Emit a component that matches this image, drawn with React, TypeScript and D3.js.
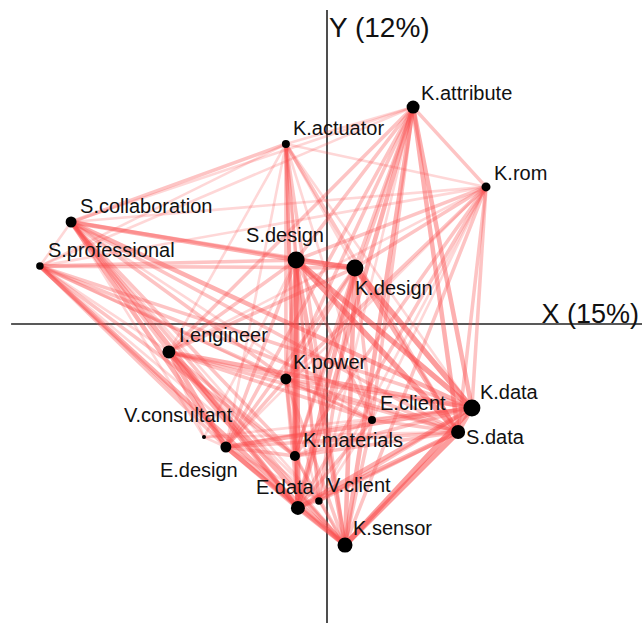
import React from "react";
import * as d3 from "d3";

// ---- data ----
const nodeNames = [
  "K.attribute", "K.actuator", "K.rom", "S.collaboration", "S.professional",
  "S.design", "K.design", "I.engineer", "K.power", "K.data", "E.client",
  "S.data", "V.consultant", "E.design", "K.materials", "V.client", "E.data", "K.sensor",
];
const nodeX = [0.287, -0.137, 0.53, -0.853, -0.957, -0.103, 0.093, -0.527, -0.137, 0.483, 0.15, 0.437, -0.41, -0.337, -0.107, -0.027, -0.097, 0.06];
const nodeY = [0.723, 0.6, 0.457, 0.34, 0.193, 0.213, 0.187, -0.093, -0.183, -0.28, -0.32, -0.36, -0.377, -0.41, -0.44, -0.59, -0.613, -0.737];
const nodeCount = [42, 16, 20, 30, 14, 72, 72, 42, 30, 72, 16, 49, 4, 30, 25, 14, 49, 56];

// edges: [source, target, weight]
const edges: [number, number, number][] = [
  [0,1,1],[0,2,2],[0,3,1],[0,4,1],[0,5,2],[0,6,2],[0,7,2],[0,8,2],[0,9,3],[0,10,2],[0,11,3],[0,13,2],[0,14,2],[0,15,1],[0,16,3],[0,17,3],
  [1,2,1],[1,3,2],[1,4,1],[1,5,2],[1,6,1],[1,7,1],[1,8,2],[1,9,1],[1,10,1],[1,11,2],[1,13,1],[1,14,2],[1,15,1],[1,16,2],[1,17,2],
  [2,3,1],[2,4,1],[2,5,2],[2,6,2],[2,7,1],[2,8,2],[2,9,2],[2,10,1],[2,11,2],[2,13,1],[2,14,2],[2,15,1],[2,16,2],[2,17,2],
  [3,4,1],[3,5,3],[3,6,2],[3,7,2],[3,8,2],[3,9,3],[3,10,1],[3,11,2],[3,12,1],[3,13,3],[3,14,2],[3,15,1],[3,16,3],[3,17,2],
  [4,5,2],[4,6,2],[4,7,1],[4,8,2],[4,9,2],[4,10,1],[4,11,2],[4,13,2],[4,14,2],[4,15,1],[4,16,2],[4,17,3],
  [5,6,4],[5,7,2],[5,8,2],[5,9,4],[5,10,2],[5,11,4],[5,12,1],[5,13,2],[5,14,3],[5,15,2],[5,16,4],[5,17,3],
  [6,7,2],[6,8,2],[6,9,4],[6,10,2],[6,11,3],[6,13,2],[6,14,2],[6,15,2],[6,16,3],[6,17,3],
  [7,8,2],[7,9,3],[7,10,2],[7,11,2],[7,12,1],[7,13,3],[7,14,2],[7,15,1],[7,16,3],[7,17,3],
  [8,9,2],[8,10,2],[8,11,2],[8,13,2],[8,14,2],[8,15,1],[8,16,2],[8,17,2],
  [9,10,2],[9,11,3],[9,12,1],[9,13,3],[9,14,2],[9,15,2],[9,16,3],[9,17,4],
  [10,11,2],[10,13,1],[10,14,1],[10,15,1],[10,16,2],[10,17,2],
  [11,12,1],[11,13,2],[11,14,2],[11,15,2],[11,16,3],[11,17,4],
  [12,13,1],
  [13,14,2],[13,15,1],[13,16,3],[13,17,3],
  [14,15,1],[14,16,2],[14,17,2],
  [15,16,1],[15,17,1],
  [16,17,3],
];

const xAxisLabel = "X (15%)";
const yAxisLabel = "Y (12%)";

// ---- label placement (style) ----
const labelOffset: Record<string, [number, number]> = {
  "K.attribute": [8, -7],
  "K.actuator": [7, -9],
  "K.rom": [8, -7],
  "S.collaboration": [9, -9],
  "S.professional": [8, -9],
  "S.design": [-50, -18],
  "K.design": [0, 27],
  "I.engineer": [10, -10],
  "K.power": [7, -10],
  "K.data": [8, -9],
  "E.client": [8, -10],
  "S.data": [8, 12],
  "V.consultant": [-80, -15],
  "E.design": [-66, 30],
  "K.materials": [8, -9],
  "V.client": [8, -9],
  "E.data": [-42, -14],
  "K.sensor": [8, -10],
};

const W = 642;
const H = 623;

export default function App() {
  const x = d3.scaleLinear().domain([-1, 1]).range([27, 627]);
  const y = d3.scaleLinear().domain([-1, 1]).range([624, 24]);
  const r = d3.scaleSqrt().domain([0, 72]).range([0, 8.5]);
  const sw = d3.scaleLinear().domain([1, 4]).range([2.6, 5.5]);
  const op = d3.scaleLinear().domain([1, 4]).range([0.22, 0.55]);
  const font = "'Liberation Sans', Arial, Helvetica, sans-serif";

  const sorted = [...edges].sort((a, b) => a[2] - b[2]);

  return (
    <svg width={W} height={H} style={{ position: "absolute", left: 0, top: 0, background: "#fff" }}>
      <line x1={x(-1.053)} x2={W} y1={y(0)} y2={y(0)} stroke="#222" strokeWidth={1.6} />
      <line x1={x(0)} x2={x(0)} y1={y(1.047)} y2={H} stroke="#222" strokeWidth={1.6} />
      <g>
        {sorted.map(([s, t, w], i) => (
          <line
            key={i}
            x1={x(nodeX[s])}
            y1={y(nodeY[s])}
            x2={x(nodeX[t])}
            y2={y(nodeY[t])}
            stroke="rgb(250,75,75)"
            strokeOpacity={op(w)}
            strokeWidth={sw(w)}
            strokeLinecap="round"
          />
        ))}
      </g>
      <g>
        {nodeNames.map((n, i) => (
          <circle key={n} cx={x(nodeX[i])} cy={y(nodeY[i])} r={r(nodeCount[i])} fill="#000" />
        ))}
      </g>
      <g fontFamily={font} fontSize={20} fill="#111">
        {nodeNames.map((n, i) => (
          <text key={n} x={x(nodeX[i]) + labelOffset[n][0]} y={y(nodeY[i]) + labelOffset[n][1]}>
            {n}
          </text>
        ))}
      </g>
      <text x={x(0) + 2} y={37} fontFamily={font} fontSize={28} fill="#111">
        {yAxisLabel}
      </text>
      <text x={W - 3} y={y(0) - 1} textAnchor="end" fontFamily={font} fontSize={27} fill="#111">
        {xAxisLabel}
      </text>
    </svg>
  );
}
